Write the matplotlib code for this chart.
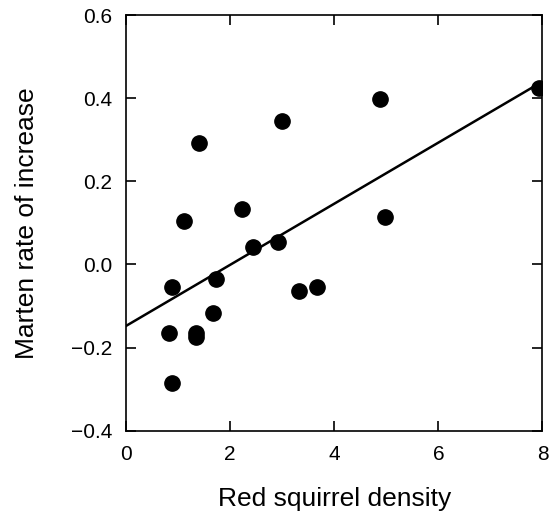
import matplotlib
matplotlib.use("Agg")
import matplotlib.pyplot as plt
import numpy as np

# squirrel density vs marten rate of increase
squirrel = [7.93, 4.88, 3.00, 1.40, 1.12, 2.23, 4.98, 2.43, 2.92, 0.89,
            1.73, 3.32, 3.66, 1.67, 0.83, 1.34, 1.35, 0.89]
marten = [0.425, 0.397, 0.345, 0.292, 0.105, 0.134, 0.115, 0.041, 0.053, -0.055,
          -0.035, -0.063, -0.054, -0.116, -0.166, -0.165, -0.174, -0.285]

# regression line end points
fit_x = [0, 8]
fit_y = [-0.148, 0.44]

xticks = [0, 2, 4, 6, 8]
yticks = [-0.4, -0.2, 0.0, 0.2, 0.4, 0.6]

plt.rcParams['font.family'] = ['Liberation Sans', 'DejaVu Sans']

fig = plt.figure(figsize=(5.58, 5.12), dpi=100)
ax = fig.add_axes([0.2258, 0.1588, 0.7464, 0.8119])

ax.plot(fit_x, fit_y, color='black', linewidth=1.8, zorder=2)
ax.plot(squirrel, marten, 'o', color='black', markersize=11, zorder=3)

ax.set_xlim(0, 8)
ax.set_ylim(-0.4, 0.6)
ax.set_xticks(xticks)
ax.set_yticks(yticks)
ax.set_xticklabels([str(t) for t in xticks])
ax.set_yticklabels(['\u22120.4', '\u22120.2', '0.0', '0.2', '0.4', '0.6'])

ax.tick_params(direction='in', top=True, right=True, length=7, width=1.2,
               labelsize=15, pad=10)
for s in ax.spines.values():
    s.set_linewidth(1.2)

ax.set_xlabel('Red squirrel density', fontsize=19, labelpad=17)
ax.set_ylabel('Marten rate of increase', fontsize=19, labelpad=23)

fig.savefig('out.png', dpi=100)
